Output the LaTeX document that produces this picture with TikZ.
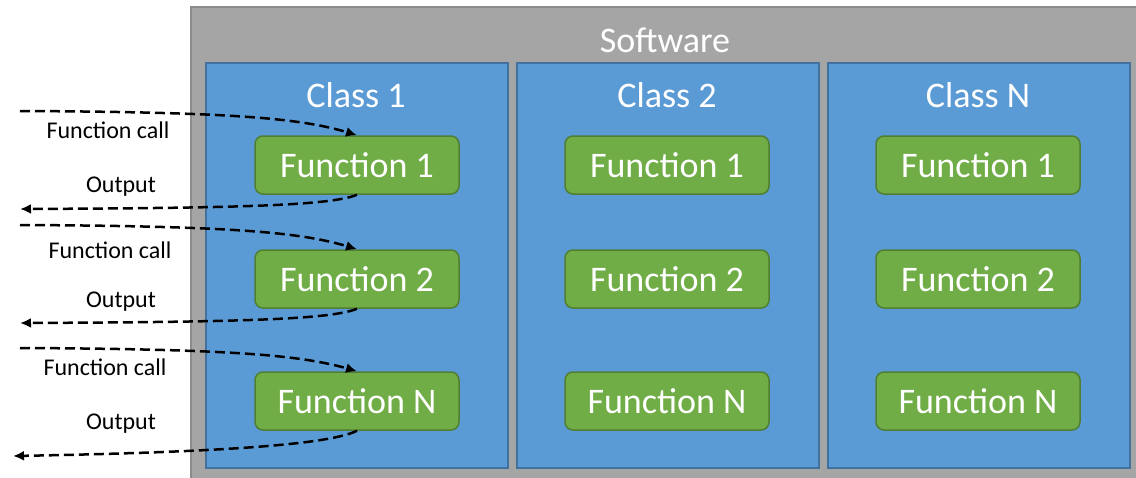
\documentclass[tikz,border=0pt]{standalone}
\usepackage{fontspec}
\setmainfont{Carlito}
\usetikzlibrary{arrows.meta}
\definecolor{swgrey}{HTML}{A5A5A5}
\definecolor{swgreyline}{HTML}{8C8C8C}
\definecolor{clsblue}{HTML}{5B9BD5}
\definecolor{clsline}{HTML}{41719C}
\definecolor{fngreen}{HTML}{70AD47}
\definecolor{fnline}{HTML}{507E32}
\begin{document}
\begin{tikzpicture}[x=1pt,y=-1pt,
  swbox/.style={draw=swgreyline, fill=swgrey, line width=1.5pt},
  classbox/.style={draw=clsline, fill=clsblue, line width=1.5pt,
    minimum width=302pt, minimum height=405pt, anchor=north west, inner sep=0pt},
  fnbox/.style={draw=fnline, fill=fngreen, line width=1.5pt, rounded corners=8pt,
    minimum width=204pt, minimum height=58pt, inner sep=0pt,
    text=white, font=\fontsize{36}{40}\selectfont},
  heading/.style={text=white, font=\fontsize{36}{40}\selectfont, inner sep=0pt},
  flow/.style={dash pattern=on 10pt off 5pt, line width=2.5pt,
    -{Latex[length=11pt,width=10pt]}},
  lbl/.style={text=black, font=\fontsize{24}{28}\selectfont, inner sep=0pt}]
\useasboundingbox (0,0) rectangle (1136,477);
\clip (0,0) rectangle (1136,477);

% outer software container (runs past the right and bottom edges)
\draw[swbox] (191,7) rectangle (1160,500);
\node[heading] (sw) at (665,40) {Software};

% classes
\node[classbox] (c1) at (205,62) {};
\node[classbox] (c2) at (516,62) {};
\node[classbox] (c3) at (827,62) {};
\node[heading] (c1t) at (356,95) {Class 1};
\node[heading] (c2t) at (667,95) {Class 2};
\node[heading] (c3t) at (978,95) {Class N};

% functions
\foreach \col/\cx in {1/357,2/667,3/978}{
  \node[fnbox] (f\col1) at (\cx,165) {Function 1};
  \node[fnbox] (f\col2) at (\cx,279) {Function 2};
  \node[fnbox] (f\col3) at (\cx,401) {Function N};
}

% calls into class 1 and the outputs coming back
\coordinate (in1) at (20,111);
\coordinate (out1) at (20,209);
\coordinate (in2) at (20,225);
\coordinate (out2) at (20,323);
\coordinate (in3) at (20,348);
\coordinate (out3) at (13,456);

\draw[flow] (in1) .. controls (230,112) and (300,118) .. (f11.north);
\draw[flow] (f11.south) .. controls (330,206) and (230,208) .. (out1);
\draw[flow] (in2) .. controls (230,226) and (300,232) .. (f12.north);
\draw[flow] (f12.south) .. controls (330,320) and (230,322) .. (out2);
\draw[flow] (in3) .. controls (230,349) and (300,355) .. (f13.north);
\draw[flow] (f13.south) .. controls (330,444) and (230,452) .. (out3);

% connector labels
\node[lbl] (l1) at (108,130) {Function call};
\node[lbl] (l2) at (121,187) {Output};
\node[lbl] (l3) at (110,250) {Function call};
\node[lbl] (l4) at (121,302) {Output};
\node[lbl] (l5) at (105,367) {Function call};
\node[lbl] (l6) at (121,424) {Output};
\end{tikzpicture}
\end{document}
